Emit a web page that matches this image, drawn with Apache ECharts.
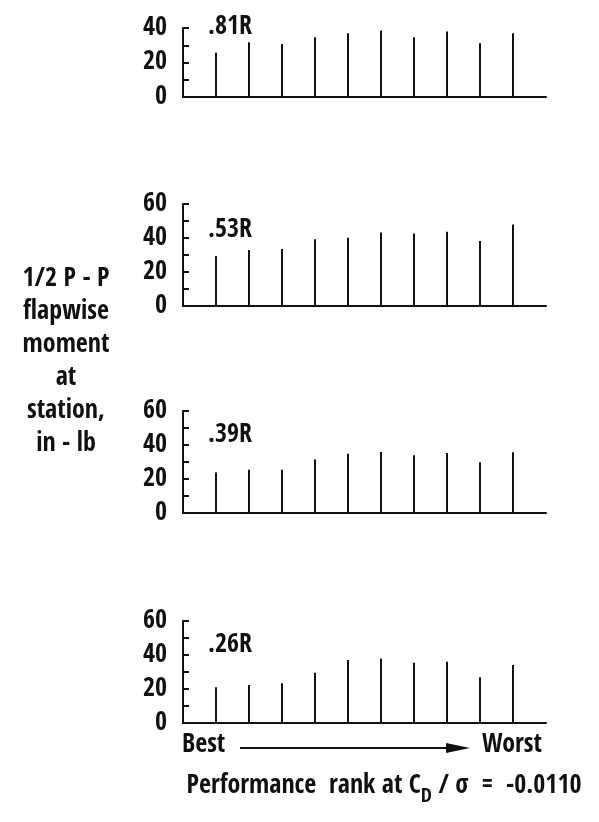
<!DOCTYPE html>
<html><head><meta charset="utf-8">
<script src="https://cdn.jsdelivr.net/npm/echarts@6/dist/echarts.min.js"></script>
<style>html,body{margin:0;padding:0;background:#fff}#c{width:599px;height:822px}</style>
</head><body><div id="c"></div>
<script>
const ranks = [1,2,3,4,5,6,7,8,9,10];
const stations = ['.81R', '.53R', '.39R', '.26R'];
const s81 = [25.7, 31.7, 30.7, 34.6, 36.9, 38.6, 34.6, 37.9, 31.1, 36.9];
const s53 = [29.4, 32.9, 33.5, 39.2, 40.2, 43.3, 42.7, 43.7, 38.2, 48.0];
const s39 = [23.8, 25.4, 25.4, 31.4, 34.9, 35.9, 33.9, 35.3, 29.8, 35.7];
const s26 = [21.0, 22.4, 23.4, 29.6, 37.0, 38.0, 35.4, 36.0, 26.9, 34.1];
const yMax = [40, 60, 60, 60];
const seriesVals = [s81, s53, s39, s26];

const FONT = "'Open Sans Condensed','Roboto Condensed',sans-serif";
const FS = 26;
const grids = [
  {left:183, width:363, top:28, height:69},
  {left:183, width:363, top:204, height:102},
  {left:183, width:363, top:411, height:102},
  {left:183, width:363, top:621, height:102}
];
const labelTops = [9, 212, 417, 627];

const chart = echarts.init(document.getElementById('c'));
const option = {
  backgroundColor:'#fff',
  animation:false,
  grid: grids,
  title: stations.map((s,i)=>({
    text: s, left: 203, top: labelTops[i],
    textStyle:{fontFamily:FONT, fontSize:FS, fontWeight:'bold', color:'#111'}
  })).concat([{
    text: '1/2 P - P\nflapwise\nmoment\nat\nstation,\nin - lb',
    left: 61, top: 258, textAlign:'center',
    textStyle:{fontFamily:FONT, fontSize:FS, fontWeight:'bold', color:'#111', lineHeight:33, align:'center'}
  },{
    text: '{a|Performance  rank at C}{s|D}{a| / σ  =  -0.0110}',
    left: 379, top: 766, textAlign:'center',
    textStyle:{rich:{
      a:{fontFamily:FONT, fontSize:FS, fontWeight:'bold', color:'#111', lineHeight:30},
      s:{fontFamily:FONT, fontSize:20, fontWeight:'bold', color:'#111', padding:[22,0,0,0], lineHeight:22}
    }}
  }]),
  xAxis: grids.map((g,i)=>({
    type:'value', gridIndex:i, min:0, max:11,
    axisLine:{show:true, onZero:false, lineStyle:{color:'#111', width:2}},
    axisTick:{show:false}, axisLabel:{show:false}, splitLine:{show:false}
  })),
  yAxis: grids.map((g,i)=>({
    type:'value', gridIndex:i, min:0, max:yMax[i], interval:10,
    axisLine:{show:true, lineStyle:{color:'#111', width:2}},
    axisTick:{show:true, inside:true, length:6, lineStyle:{color:'#111', width:2}},
    axisLabel:{show:true, margin:16, color:'#111', fontFamily:FONT, fontSize:FS, fontWeight:'bold',
      formatter: v => (v % 20 === 0 ? String(v) : '')},
    splitLine:{show:false}
  })),
  series: seriesVals.map((vals,i)=>({
    type:'bar', xAxisIndex:i, yAxisIndex:i, barWidth:2,
    itemStyle:{color:'#111'},
    data: ranks.map((r,j)=>[r, vals[j]])
  })),
  graphic:[
    {type:'text', left:182, top:732, style:{text:'Best', font:"bold "+FS+"px "+FONT, fill:'#111'}},
    {type:'text', left:482, top:732, style:{text:'Worst', font:"bold "+FS+"px "+FONT, fill:'#111'}},
    {type:'line', shape:{x1:240, y1:748, x2:450, y2:748}, style:{stroke:'#111', lineWidth:2}},
    {type:'polygon', shape:{points:[[446,743],[470,748],[446,753]]}, style:{fill:'#111'}}
  ]
};
chart.setOption(option);
</script></body></html>
